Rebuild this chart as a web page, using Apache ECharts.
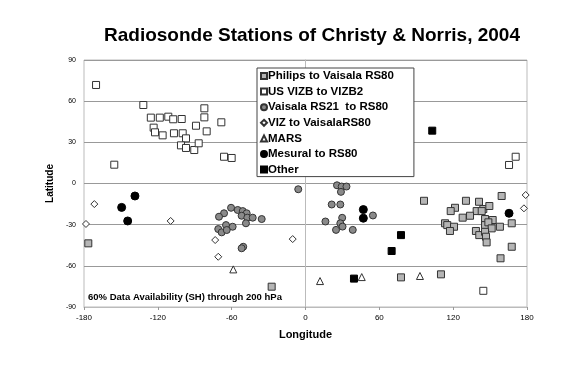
<!DOCTYPE html>
<html><head><meta charset="utf-8">
<script src="https://cdn.jsdelivr.net/npm/echarts@6/dist/echarts.min.js"></script>
<style>html,body{margin:0;padding:0;background:#fff}#c{width:584px;height:389px}</style>
</head><body><div id="c"></div>
<script>
var xTicks = [-180, -120, -60, 0, 60, 120, 180];
var yTicks = [-90, -60, -30, 0, 30, 60, 90];

var philips = [[-176.5,-43.6],[96.3,-12.6],[130.4,-12.6],[159.4,-9.1],[141,-13.3],[121.5,-17.7],[118,-20.1],[139.1,-20.1],
  [144.5,-18.6],[149.4,-16.4],[143.2,-20.1],[133.7,-23.5],[127.7,-24.9],[113.4,-29],[115.2,-30.3],[120.7,-31.5],
  [117.4,-34.6],[145.9,-25.9],[152.1,-26.6],[145.9,-30.3],[148.6,-28.3],[151.3,-32.7],[158,-31.5],[138.5,-34.6],
  [141.2,-37.6],[145.9,-35.2],[146.7,-38.8],[147.2,-42.9],[167.6,-29],[167.6,-46.1],[158.5,-54.5],
  [77.6,-68.4],[110.1,-66.2],[-27.5,-75.2]];
var usViz = [[-170.2,71.8],[-131.8,57.2],[-125.7,48.0],[-118.4,48.0],[-111.5,48.7],[-107.5,46.8],[-100.6,47.0],
  [-82.2,54.8],[-82.2,48.2],[-89.0,42.1],[-68.4,44.6],[-80.3,38.0],[-123.4,40.7],[-122.3,37.3],[-116.1,35.1],
  [-106.9,36.6],[-99.8,36.6],[-97.1,32.9],[-101.2,27.8],[-97.1,25.9],[-90.4,24.4],[-86.8,29.3],[-66.2,19.5],
  [-60.0,18.6],[-155.4,13.7],[170.8,19.5],[165.4,13.5],[144.5,-78.2]];
var vaisala = [[-60.5,-17.7],[-55.1,-19.3],[-51,-20.1],[-47.8,-21.7],[-51.9,-23.5],[-47.3,-24.9],[-42.9,-24.9],
  [-35.6,-25.9],[-48.4,-29],[-66.2,-21.7],[-70.3,-24.2],[-64.6,-30.3],[-59.2,-31.5],[-70.9,-33.2],[-68.1,-35.6],
  [-64,-33.9],[-50.6,-46.1],[-51.9,-47.2],[-5.9,-4.2],
  [25.6,-1.3],[29.4,-2.2],[33.3,-2.2],[28.8,-6.1],[21.3,-15.3],[28.3,-15.3],[54.8,-23.3],[16.2,-27.7],
  [29.8,-25],[28.3,-29],[24.8,-33.8],[30.1,-31.4],[38.4,-33.8]];
var vizToVaisala = [[-171.6,-15],[-178.4,-29.5],[-109.6,-27.3],[-73.4,-41.2],[-70.9,-53.4],[-10.4,-40.5],
  [178.9,-8.4],[177.5,-18.1]];
var mars = [[-58.7,-62.6],[11.8,-71.1],[45.7,-68.2],[93,-67.4]];
var mesural = [[-138.6,-9.1],[-149.4,-17.4],[-144.5,-27.3],[47,-19],[47,-25.3],[165.4,-21.7]];
var other = [[103,38.5],[39.4,-69.3],[77.6,-37.6],[70,-49.2]];

var names = ['Philips to Vaisala RS80','US VIZB to VIZB2','Vaisala RS21  to RS80','VIZ to VaisalaRS80','MARS','Mesural to RS80','Other'];

var chart = echarts.init(document.getElementById('c'));
function s(name, data, symbol, size, fill, border) {
  return {name: name, type: 'scatter', data: data, symbol: symbol, symbolSize: size,
    itemStyle: {color: fill, borderColor: border, borderWidth: 1, opacity: 1}};
}
chart.setOption({
  animation: false,
  backgroundColor: '#fff',
  title: {text: 'Radiosonde Stations of Christy & Norris, 2004', left: 99, top: 21,
    textStyle: {fontFamily: 'Liberation Sans, Arial', fontWeight: 'bold', fontSize: 19, color: '#000'}},
  grid: {left: 84, right: 57, top: 60, bottom: 82, show: true, borderColor: '#bbb', borderWidth: 1},
  legend: {orient: 'vertical', left: 257, top: 68, itemWidth: 6, itemHeight: 6, itemGap: 1.6,
    backgroundColor: '#fff', borderColor: '#444', borderWidth: 1, padding: [1, 20, 0, 3],
    textStyle: {fontFamily: 'Liberation Sans, Arial', fontWeight: 'bold', fontSize: 11.5, lineHeight: 14, color: '#000', padding: [0,0,0,-4]},
    data: names},
  xAxis: {type: 'value', min: -180, max: 180, interval: 60,
    name: 'Longitude', nameLocation: 'middle', nameGap: 22,
    nameTextStyle: {fontFamily: 'Liberation Sans, Arial', fontWeight: 'bold', fontSize: 11, color: '#000'},
    axisLine: {show: true, onZero: false, lineStyle: {color: '#bbb'}},
    axisTick: {show: true, length: 3, lineStyle: {color: '#999'}},
    axisLabel: {fontFamily: 'Liberation Sans, Arial', fontSize: 8, color: '#000', margin: 7},
    splitLine: {show: false}},
  yAxis: {type: 'value', min: -90, max: 90, interval: 30,
    name: 'Latitude', nameLocation: 'middle', nameGap: 26, nameRotate: 90,
    nameTextStyle: {fontFamily: 'Liberation Sans, Arial', fontWeight: 'bold', fontSize: 10, color: '#000'},
    axisLine: {show: true, lineStyle: {color: '#bbb'}},
    axisTick: {show: false},
    axisLabel: {fontFamily: 'Liberation Sans, Arial', fontSize: 7, color: '#000', margin: 8},
    splitLine: {show: true, lineStyle: {color: '#999', width: 1}}},
  graphic: [{type: 'text', left: 88, top: 292, z: 100,
    style: {text: '60% Data Availability (SH) through 200 hPa', fill: '#000',
      font: 'bold 9.5px "Liberation Sans", Arial'}}],
  series: [
    s(names[0], philips, 'rect', 7, '#b5b5b5', '#333'),
    s(names[1], usViz, 'rect', 7, '#fff', '#333'),
    s(names[2], vaisala, 'circle', 7, '#8a8a8a', '#333'),
    s(names[3], vizToVaisala, 'diamond', 7, '#fff', '#333'),
    s(names[4], mars, 'triangle', 7, '#fff', '#333'),
    s(names[5], mesural, 'circle', 8, '#000', '#000'),
    s(names[6], other, 'rect', 7, '#000', '#000')
  ]
});
</script></body></html>
